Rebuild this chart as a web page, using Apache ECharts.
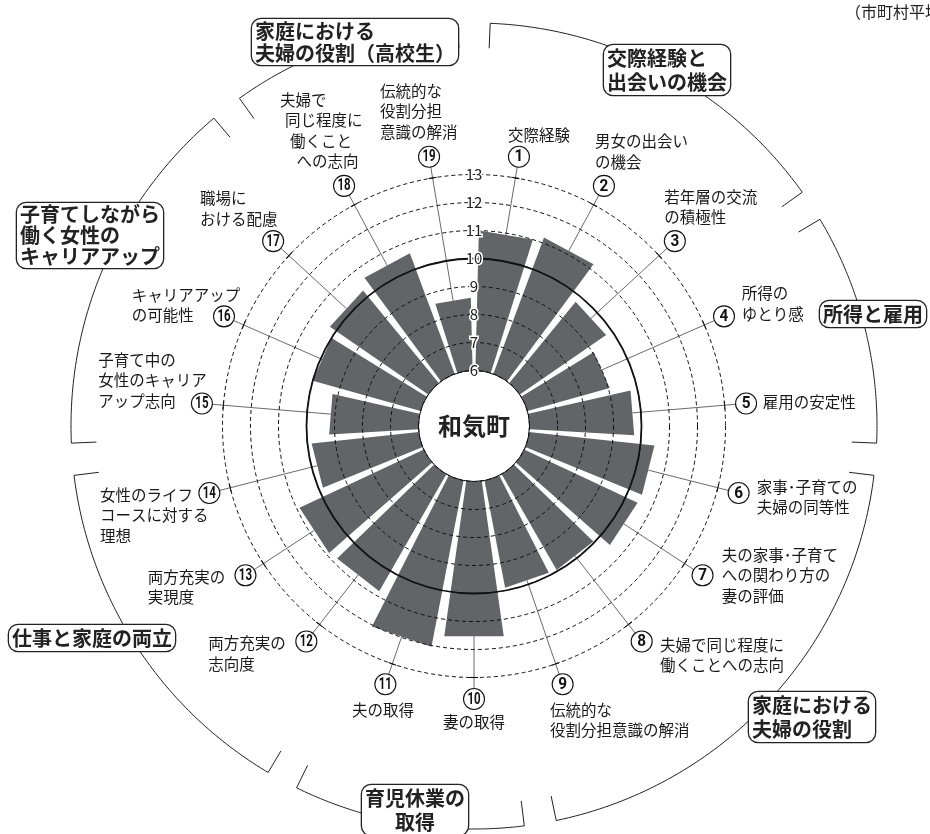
<!DOCTYPE html>
<html><head><meta charset="utf-8">
<script src="https://cdn.jsdelivr.net/npm/echarts@6/dist/echarts.min.js"></script>
<style>html,body{margin:0;padding:0;background:#fff}#c{width:930px;height:834px}</style>
</head><body><div id="c"></div>
<script>
// ---------------- data ----------------
const categoryNumbers = ['1','2','3','4','5','6','7','8','9','10','11','12','13','14','15','16','17','18','19'];
const categoryLabels = [
  '交際経験',
  '男女の出会い\nの機会',
  '若年層の交流\nの積極性',
  '所得の\nゆとり感',
  '雇用の安定性',
  '家事･子育ての\n夫婦の同等性',
  '夫の家事･子育て\nへの関わり方の\n妻の評価',
  '夫婦で同じ程度に\n働くことへの志向',
  '伝統的な\n役割分担意識の解消',
  '妻の取得',
  '夫の取得',
  '両方充実の\n志向度',
  '両方充実の\n実現度',
  '女性のライフ\nコースに対する\n理想',
  '子育て中の\n女性のキャリア\nアップ志向',
  'キャリアアップ\nの可能性',
  '職場に\nおける配慮',
  '夫婦で\n同じ程度に\n働くこと\nへの志向',
  '伝統的な\n役割分担\n意識の解消'
];
const scores = [11.0, 11.2, 9.75, 9.05, 9.75, 10.5, 10.47, 9.95, 9.9, 11.6, 12.05, 10.82, 10.9, 9.85, 9.2, 10.0, 10.27, 10.6, 8.6];
const radiusMin = 6;
const radiusMax = 13;
const radiusInterval = 1;
const averageValue = 10;
const centerName = '和気町';
const noteText = '（市町村平均＝10）';
const groupNames = [
  '交際経験と\n出会いの機会',
  '所得と雇用',
  '家庭における\n夫婦の役割',
  '育児休業の\n取得',
  '仕事と家庭の両立',
  '子育てしながら\n働く女性の\nキャリアアップ',
  '家庭における\n夫婦の役割（高校生）'
];
const groupFirst = [1, 4, 6, 10, 12, 15, 18];
const groupLast  = [3, 5, 9, 11, 14, 17, 19];

// ---------------- layout / style ----------------
const FONT = '"Noto Sans CJK JP","Noto Sans",sans-serif';
const NUM_FONT = 'Roboto,"Liberation Sans",sans-serif';
const BAR_COLOR = '#636468';
const BAR_GAP = 0.15;
const LABEL_OFFSET = 21.5;
const NUM_R = 10.5;
const LINE_H = 20.5;
const ARC_OFFSET = 151.5;
const HOOK = 25;
const ARC_INSET = 2.3 * Math.PI / 180;
const labelLayout = [
  [-11, -22], [-9, -44.3], [-10.5, -44.4], [17.7, -23], [16.6, -1.8],
  [18, -6], [19.2, -20.3], [18.3, 3.6], [-12.6, 25.8], [-31, 23],
  [-33.4, 25.8], [-98, 1.9], [-97.8, 1.4], [-109.4, 2], [-103.6, -43.5],
  [-92.3, -21.3], [-73.2, -42.8], [-64.1, -85.9, [0, 5, 10, 16.6]], [-49.1, -66]
];
const groupLayout = [
  {x: 604, y: 45, lh: 24},
  {x: 820, y: 301, lh: 24},
  {x: 749, y: 692, lh: 24},
  {x: 415, y: 785, lh: 24, align: 'center'},
  {x: 9, y: 625, lh: 24},
  {x: 17, y: 203, lh: 21},
  {x: 252, y: 19, lh: 22}
];

const N = categoryNumbers.length;
function pinfo(params, api, v, i) {
  const cs = params.coordSys;
  const p = api.coord([v, i]);
  const dx = p[0] - cs.cx, dy = p[1] - cs.cy;
  return {cs: cs, R: Math.hypot(dx, dy), phi: Math.atan2(dy, dx)};
}
function pt(cs, a, r) { return [cs.cx + r * Math.cos(a), cs.cy + r * Math.sin(a)]; }

const chart = echarts.init(document.getElementById('c'), null, {renderer: 'canvas'});

const option = {
  animation: false,
  backgroundColor: '#fff',
  polar: {center: [474, 426], radius: [55.5, 251.5]},
  angleAxis: {
    type: 'category', data: categoryNumbers, startAngle: 90, clockwise: true, boundaryGap: true,
    axisLine: {show: false}, axisTick: {show: false}, axisLabel: {show: false}, splitLine: {show: false}
  },
  radiusAxis: {
    min: radiusMin, max: radiusMax, interval: radiusInterval, z: 5,
    axisLine: {show: false}, axisTick: {show: false},
    splitLine: {show: true, lineStyle: {color: '#111', type: [4, 3], width: 1}},
    axisLabel: {
      margin: 0, align: 'center', verticalAlign: 'middle', fontSize: 15, color: '#222',
      fontFamily: FONT, textBorderColor: '#fff', textBorderWidth: 3
    }
  },
  series: [
    {
      type: 'custom', coordinateSystem: 'polar', z: 2, silent: true,
      data: scores.map((v, i) => [v, i]),
      renderItem(params, api) {
        const o = pinfo(params, api, api.value(0), api.value(1));
        const half = Math.PI / N * (1 - BAR_GAP);
        const r0 = o.cs.r0 * 0.7;
        const pts = [pt(o.cs, o.phi - half, r0), pt(o.cs, o.phi - half, o.R), pt(o.cs, o.phi + half, o.R), pt(o.cs, o.phi + half, r0)];
        return {type: 'polygon', shape: {points: pts}, style: {fill: BAR_COLOR}};
      }
    },
    {
      type: 'custom', coordinateSystem: 'polar', z: 3, silent: true,
      data: scores.map((v, i) => [v, i]),
      renderItem(params, api) {
        const i = api.value(1);
        const o = pinfo(params, api, api.value(0), i);
        const cs = o.cs;
        const half = Math.PI / N * (1 - BAR_GAP);
        const rl = cs.r + LABEL_OFFSET;
        const s = pt(cs, o.phi, o.R * Math.cos(half));
        const e = pt(cs, o.phi, rl - NUM_R);
        const c = pt(cs, o.phi, rl);
        const t = pt(cs, o.phi, cs.r);
        const tx = -Math.sin(o.phi) * 4, ty = Math.cos(o.phi) * 4;
        const children = [
          {type: 'line', shape: {x1: s[0], y1: s[1], x2: e[0], y2: e[1]}, style: {stroke: '#444', lineWidth: 0.8}},
          {type: 'line', shape: {x1: t[0] - tx, y1: t[1] - ty, x2: t[0] + tx, y2: t[1] + ty}, style: {stroke: '#111', lineWidth: 1.1}},
          {type: 'circle', shape: {cx: c[0], cy: c[1], r: NUM_R}, style: {fill: '#fff', stroke: '#111', lineWidth: 1.1}}
        ];
        const num = categoryNumbers[i];
        children.push({
          type: 'text', x: c[0], y: c[1] + 0.5, scaleX: num.length > 1 ? 0.72 : 0.9,
          style: {text: num, x: 0, y: 0, align: 'center', verticalAlign: 'middle',
                  font: 'bold ' + (num.length > 1 ? 16 : 17) + 'px ' + NUM_FONT, fill: '#111'}
        });
        const L = labelLayout[i];
        const lines = categoryLabels[i].split('\n');
        lines.forEach((ln, j) => {
          const ind = L[2] ? L[2][j] : 0;
          children.push({
            type: 'text',
            style: {text: ln, x: c[0] + L[0] + ind, y: c[1] + L[1] + j * LINE_H, align: 'left', verticalAlign: 'middle',
                    font: '15.5px ' + FONT, fill: '#1a1a1a'}
          });
        });
        return {type: 'group', children: children};
      }
    },
    {
      type: 'custom', coordinateSystem: 'polar', z: 3, silent: true,
      data: groupNames.map((g, k) => [radiusMax, groupFirst[k] - 1]),
      renderItem(params, api) {
        const k = params.dataIndex;
        const a = pinfo(params, api, radiusMax, groupFirst[k] - 1);
        const b = pinfo(params, api, radiusMax, groupLast[k] - 1);
        const cs = a.cs;
        const R = cs.r + ARC_OFFSET;
        let s = a.phi - Math.PI / N + ARC_INSET;
        let e = b.phi + Math.PI / N - ARC_INSET;
        while (e < s) e += Math.PI * 2;
        const pts = [pt(cs, s, R - HOOK)];
        const n = 80;
        for (let j = 0; j <= n; j++) pts.push(pt(cs, s + (e - s) * j / n, R));
        pts.push(pt(cs, e, R - HOOK));
        return {type: 'polyline', shape: {points: pts}, style: {stroke: '#222', lineWidth: 1, fill: null}};
      }
    },
    {
      type: 'custom', coordinateSystem: 'polar', z: 4, silent: true,
      data: [[averageValue, 0]],
      renderItem(params, api) {
        const o = pinfo(params, api, api.value(0), 0);
        return {type: 'circle', shape: {cx: o.cs.cx, cy: o.cs.cy, r: o.R}, style: {fill: null, stroke: '#111', lineWidth: 1.8}};
      }
    },
    {
      type: 'custom', coordinateSystem: 'polar', z: 4, silent: true,
      data: [[radiusMin, 0]],
      renderItem(params, api) {
        const o = pinfo(params, api, api.value(0), 0);
        return {type: 'group', children: [
          {type: 'circle', shape: {cx: o.cs.cx, cy: o.cs.cy, r: o.R}, style: {fill: '#fff', stroke: '#111', lineWidth: 1}},
          {type: 'text', style: {text: centerName, x: o.cs.cx, y: o.cs.cy, align: 'center', verticalAlign: 'middle',
            font: 'bold 24px ' + FONT, fill: '#222'}}
        ]};
      }
    }
  ],
  graphic: groupNames.map((g, k) => ({
    type: 'text', x: groupLayout[k].x, y: groupLayout[k].y, z: 100, silent: true,
    style: {
      text: g, font: 'bold 20px ' + FONT, fill: '#222', lineHeight: groupLayout[k].lh,
      align: groupLayout[k].align || 'left', verticalAlign: 'top',
      backgroundColor: '#fff', borderColor: '#222', borderWidth: 1.3, borderRadius: 9, padding: [1, 3]
    }
  })).concat([
    {type: 'text', x: 845, y: 4, z: 100, silent: true,
     style: {text: noteText, font: '16px ' + FONT, fill: '#222', align: 'left', verticalAlign: 'top'}}
  ])
};
chart.setOption(option);
</script>
</body></html>
